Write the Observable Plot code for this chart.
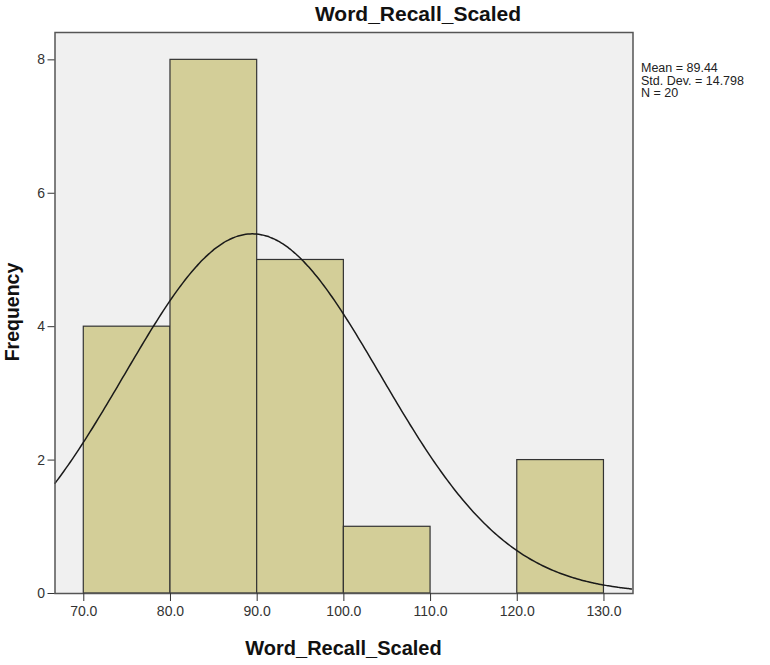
<!DOCTYPE html>
<html><head><meta charset="utf-8">
<script src="https://cdn.jsdelivr.net/npm/d3@7"></script>
<script src="https://cdn.jsdelivr.net/npm/@observablehq/plot@0.6"></script>
<style>
body{margin:0;background:#fff;font-family:"Liberation Sans",Arial,sans-serif}
#chart svg{display:block}
</style>
</head><body><div id="chart"></div>
<script>
// ---- data ----
const binStarts = [70, 80, 90, 100, 110, 120];
const binEnds   = [80, 90, 100, 110, 120, 130];
const counts    = [4, 8, 5, 1, 0, 2];
const xTicks = [70, 80, 90, 100, 110, 120, 130];
const yTicks = [0, 2, 4, 6, 8];
const mean = 89.44, sd = 14.798, n = 20, binWidth = 10;
const titleText = "Word_Recall_Scaled";
const xLabel = "Word_Recall_Scaled";
const yLabel = "Frequency";
const statLines = ["Mean = 89.44", "Std. Dev. = 14.798", "N = 20"];

// ---- derived tables ----
const bins = binStarts.map((s, i) => ({x1: s, x2: binEnds[i], count: counts[i]})).filter(d => d.count > 0);
const xDomain = [66.68, 133.35];
const curve = d3.range(xDomain[0], xDomain[1] + 0.01, 0.25).map(x => ({
  x, y: n * binWidth * Math.exp(-0.5 * ((x - mean) / sd) ** 2) / (sd * Math.sqrt(2 * Math.PI))
}));

const W = 770, H = 665;
const plot = Plot.plot({
  width: W, height: H,
  marginLeft: 54.5, marginRight: 137.5, marginTop: 32, marginBottom: 72,
  style: {fontFamily: '"Liberation Sans", Arial, sans-serif', background: "#fff", overflow: "visible"},
  x: {domain: xDomain},
  y: {domain: [0, 8.41]},
  marks: [
    Plot.frame({fill: "#F0F0F0", stroke: null}),
    Plot.rectY(bins, {x1: "x1", x2: "x2", y1: 0, y2: "count", fill: "#D3CE98", stroke: "#333", strokeWidth: 1.2, inset: 0}),
    Plot.line(curve, {x: "x", y: "y", stroke: "#1a1a1a", strokeWidth: 1.5, curve: "basis"}),
    Plot.frame({stroke: "#555", strokeWidth: 1.5}),
    Plot.axisX({ticks: xTicks, tickFormat: d => d.toFixed(1), tickSize: 8, tickPadding: 5, fontSize: 14, label: null, stroke: "#333", color: "#333"}),
    Plot.axisY({ticks: yTicks, tickFormat: d => String(d), tickSize: 7, tickPadding: 3, fontSize: 14, label: null, stroke: "#333", color: "#333"})
  ]
});
document.getElementById("chart").appendChild(plot);

const svg = d3.select(plot);
svg.append("text").attr("x", 418).attr("y", 21).attr("text-anchor", "middle")
  .attr("font-size", 21).attr("font-weight", "bold").attr("fill", "#111").text(titleText);
svg.append("text").attr("x", 343.5).attr("y", 655).attr("text-anchor", "middle")
  .attr("font-size", 20).attr("font-weight", "bold").attr("fill", "#111").text(xLabel);
svg.append("text").attr("transform", "translate(19,312) rotate(-90)").attr("text-anchor", "middle")
  .attr("font-size", 19.5).attr("font-weight", "bold").attr("fill", "#111").text(yLabel);
const st = svg.append("text").attr("font-size", 12.5).attr("fill", "#222").attr("text-anchor", "start");
statLines.forEach((s, i) => st.append("tspan").attr("x", 641).attr("y", 72 + i * 12.5).text(s));
</script>
</body></html>
